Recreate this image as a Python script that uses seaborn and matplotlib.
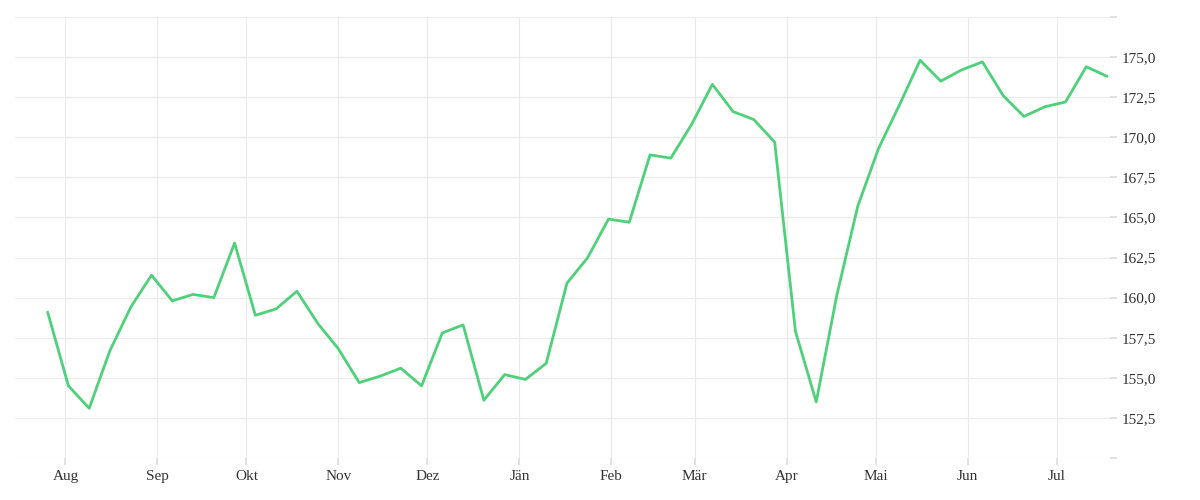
import pandas as pd
import numpy as np
import seaborn as sns
import matplotlib.pyplot as plt
import matplotlib.dates as mdates
from matplotlib.ticker import FuncFormatter, MultipleLocator

# Weekly values
dates = pd.date_range("2022-07-26", periods=52, freq="7D")
values = [159.1, 154.5, 153.1, 156.7, 159.4, 161.4, 159.8, 160.2, 160.0, 163.4,
          158.9, 159.3, 160.4, 158.4, 156.8, 154.7, 155.1, 155.6, 154.5, 157.8,
          158.3, 153.6, 155.2, 154.9, 155.9, 160.9, 162.5, 164.9, 164.7, 168.9,
          168.7, 170.8, 173.3, 171.6, 171.1, 169.7, 157.9, 153.5, 160.2, 165.7,
          169.3, 172.0, 174.8, 173.5, 174.2, 174.7, 172.6, 171.3, 171.9, 172.2,
          174.4, 173.8]
month_labels = ["Jän", "Feb", "Mär", "Apr", "Mai", "Jun", "Jul", "Aug", "Sep",
                "Okt", "Nov", "Dez"]

df = pd.DataFrame({"date": dates, "value": values})

sns.set_theme(style="white")
plt.rcParams['font.family'] = ['Liberation Serif', 'DejaVu Serif']

fig = plt.figure(figsize=(12, 5), dpi=100)
ax = fig.add_axes([0.0125, 0.084, 0.9125, 0.882])
sns.lineplot(data=df, x="date", y="value", color="#4ed17a", linewidth=2.0, ax=ax)

ax.set_ylim(150, 177.5)
ax.set_xlim(pd.Timestamp("2022-07-15"), pd.Timestamp("2023-07-19"))
ax.yaxis.tick_right()
ax.yaxis.set_major_locator(MultipleLocator(2.5))
ax.yaxis.set_major_formatter(FuncFormatter(
    lambda v, p: "" if v < 152 or v > 176 else f"{v:.1f}".replace(".", ",")))
ax.xaxis.set_major_locator(mdates.MonthLocator())
ax.xaxis.set_major_formatter(FuncFormatter(
    lambda v, p: month_labels[mdates.num2date(v).month - 1]))
ax.grid(True, color="#ebebeb", linewidth=0.8)
for s in ax.spines.values():
    s.set_visible(False)
ax.axvline(ax.get_xlim()[1], color="#ebebeb", linewidth=0.8)
ax.tick_params(axis="both", colors="#333333", labelsize=11, length=5,
               color="#dddddd", left=False, right=True, bottom=True)
ax.set_xlabel("")
ax.set_ylabel("")

fig.savefig("out.png", dpi=100)
